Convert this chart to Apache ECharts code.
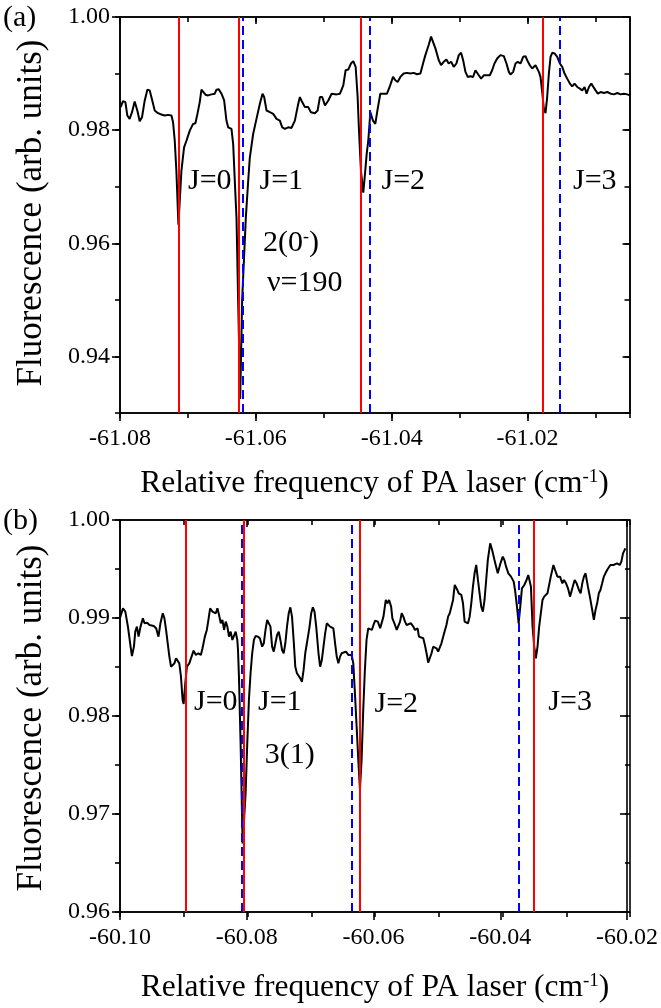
<!DOCTYPE html>
<html>
<head>
<meta charset="utf-8">
<script src="https://cdn.jsdelivr.net/npm/echarts@6/dist/echarts.min.js"></script>
<style>
html,body{margin:0;padding:0;background:#fff;}
#chart{width:661px;height:1008px;}
</style>
</head>
<body>
<div id="chart"></div>
<script>
// ---------------- DATA ----------------
// Panel (a): relative frequency (cm^-1) and fluorescence (arb. units)
const freqA = [-61.0799,-61.07956,-61.07921,-61.07892,-61.07858,-61.07823,-61.07784,-61.07745,-61.0771,-61.07676,
-61.07636,-61.07597,-61.07563,-61.07538,-61.07489,-61.0744,-61.07391,-61.07342,-61.07293,-61.07243,
-61.07219,-61.07194,-61.0717,-61.0714,-61.07096,-61.07057,-61.07022,-61.06973,-61.06924,-61.0689,
-61.0686,-61.06826,-61.06801,-61.06777,-61.06742,-61.06703,-61.06654,-61.06605,-61.0658,-61.06546,
-61.06506,-61.06467,-61.06433,-61.06408,-61.06359,-61.06334,-61.0631,-61.06285,-61.06261,-61.06231,
-61.06202,-61.06148,-61.06113,-61.06089,-61.0604,-61.05991,-61.05941,-61.05902,-61.05878,-61.05843,
-61.05794,-61.05745,-61.05696,-61.05647,-61.05612,-61.05573,-61.05524,-61.05475,-61.05426,-61.05376,
-61.05352,-61.05318,-61.05278,-61.05229,-61.0519,-61.05131,-61.05091,-61.05057,-61.05023,-61.04983,
-61.04934,-61.04885,-61.04811,-61.04762,-61.04713,-61.04679,-61.04639,-61.046,-61.04566,-61.04531,
-61.04502,-61.04482,-61.04453,-61.04419,-61.04394,-61.04369,-61.04345,-61.04315,-61.04276,-61.04242,
-61.04207,-61.04168,-61.04119,-61.0407,-61.04031,-61.03981,-61.03947,-61.03913,-61.03873,-61.03824,
-61.03775,-61.03726,-61.03677,-61.03628,-61.03578,-61.03539,-61.03505,-61.03456,-61.03421,-61.03392,
-61.03357,-61.03308,-61.03274,-61.03235,-61.03195,-61.03161,-61.03126,-61.03087,-61.03048,-61.03013,
-61.02979,-61.02949,-61.02915,-61.02881,-61.02841,-61.02802,-61.02768,-61.02743,-61.02719,-61.02684,
-61.02645,-61.02596,-61.02556,-61.02522,-61.02488,-61.02448,-61.02399,-61.0235,-61.02311,-61.02276,
-61.02252,-61.02213,-61.02178,-61.02144,-61.02105,-61.02065,-61.02031,-61.02006,-61.01967,-61.01933,
-61.01908,-61.01884,-61.01859,-61.01834,-61.0181,-61.01785,-61.01761,-61.01736,-61.01712,-61.01687,
-61.01662,-61.01638,-61.01603,-61.01564,-61.01525,-61.0149,-61.01456,-61.01417,-61.01377,-61.01343,
-61.01309,-61.01269,-61.0123,-61.01196,-61.01161,-61.01132,-61.01097,-61.01063,-61.01034,-61.00999,
-61.00965,-61.00925,-61.00876,-61.00827,-61.00778,-61.00729,-61.0068,-61.00631,-61.00582,-61.00532,
-61.00493];
const fluorA = [0.98407,0.98513,0.98496,0.98258,0.98199,0.98317,0.98507,0.98347,0.98157,0.98228,
0.98525,0.98715,0.98703,0.98585,0.98347,0.983,0.98276,0.98258,0.9827,0.98258,
0.98139,0.97813,0.97279,0.9633,0.97279,0.97694,0.97813,0.97991,0.9811,0.98122,
0.98288,0.98496,0.98715,0.98733,0.98626,0.98614,0.98632,0.98644,0.98715,0.98721,
0.98644,0.98525,0.98169,0.9805,0.98021,0.97754,0.97101,0.96448,0.950,0.9325,
0.950,0.96448,0.97101,0.97516,0.97932,0.98199,0.98466,0.98644,0.98585,0.98347,
0.98317,0.98288,0.98199,0.98169,0.9805,0.98021,0.9805,0.98039,0.98169,0.98466,
0.98585,0.98496,0.98407,0.98407,0.98317,0.983,0.98347,0.98585,0.98585,0.98436,
0.98525,0.98644,0.98632,0.98644,0.98792,0.99059,0.99071,0.99178,0.9922,0.99119,
0.98585,0.97991,0.97279,0.96893,0.9722,0.97576,0.97813,0.98317,0.98169,0.9811,
0.98377,0.98644,0.98644,0.98644,0.98763,0.98941,0.98881,0.98852,0.98941,0.99,
0.99012,0.99,0.99012,0.98988,0.99,0.99178,0.99326,0.99504,0.99653,0.99623,
0.99445,0.99237,0.99148,0.99208,0.99249,0.99178,0.99208,0.99119,0.99178,0.99326,
0.99368,0.99237,0.9903,0.98941,0.98953,0.98941,0.99059,0.99089,0.9897,0.98911,
0.9897,0.9897,0.9897,0.99059,0.99178,0.99267,0.99326,0.99309,0.99178,0.9903,
0.98982,0.9903,0.99178,0.99208,0.99178,0.99297,0.99309,0.99237,0.99148,0.99089,
0.99071,0.99148,0.99119,0.9903,0.98941,0.98674,0.98377,0.983,0.98585,0.99,
0.99297,0.99368,0.99356,0.99297,0.99178,0.99119,0.99,0.98911,0.98822,0.98774,
0.98822,0.98763,0.98733,0.98703,0.98763,0.98644,0.98763,0.98822,0.98792,0.98703,
0.98644,0.98674,0.98656,0.98674,0.98644,0.98632,0.98656,0.98632,0.98644,0.98632,
0.98614];

// Panel (b)
const freqB = [-60.1,-60.09953,-60.09916,-60.09875,-60.09833,-60.09812,-60.0978,-60.09759,-60.09733,-60.09707,
-60.09676,-60.09639,-60.09613,-60.09571,-60.09535,-60.09508,-60.09467,-60.0943,-60.09393,-60.09362,
-60.09325,-60.09299,-60.09273,-60.09247,-60.09221,-60.09195,-60.09169,-60.09142,-60.09116,-60.0909,
-60.09064,-60.09038,-60.09012,-60.08996,-60.0897,-60.08944,-60.08907,-60.08871,-60.08839,-60.08803,
-60.08766,-60.08724,-60.08698,-60.08661,-60.0863,-60.08609,-60.08578,-60.08541,-60.08515,-60.08489,
-60.08463,-60.08437,-60.0841,-60.08384,-60.08358,-60.08332,-60.08306,-60.0828,-60.08254,-60.08227,
-60.08201,-60.08175,-60.08149,-60.08138,-60.08123,-60.08097,-60.08065,-60.08018,-60.07992,-60.07966,
-60.0794,-60.07914,-60.07887,-60.07861,-60.07825,-60.07793,-60.07757,-60.07731,-60.07704,-60.07678,
-60.07652,-60.07626,-60.076,-60.07574,-60.07548,-60.07521,-60.07495,-60.07469,-60.07443,-60.07417,
-60.07391,-60.07365,-60.07338,-60.07312,-60.07286,-60.0726,-60.07234,-60.07208,-60.07182,-60.07155,
-60.07129,-60.07103,-60.07077,-60.07051,-60.07009,-60.06983,-60.06957,-60.06931,-60.06904,-60.06868,
-60.06842,-60.06815,-60.06789,-60.06763,-60.06737,-60.06711,-60.06685,-60.06659,-60.06633,-60.06606,
-60.0658,-60.06554,-60.06528,-60.06502,-60.06476,-60.06434,-60.06397,-60.06371,-60.06345,-60.06319,
-60.06293,-60.06266,-60.0624,-60.06214,-60.06188,-60.06162,-60.06136,-60.0611,-60.06083,-60.06026,
-60.06,-60.05974,-60.05932,-60.05895,-60.05869,-60.05843,-60.05806,-60.0578,-60.05754,-60.05722,
-60.05702,-60.0567,-60.05634,-60.05607,-60.05581,-60.05555,-60.05529,-60.05503,-60.05477,-60.05451,
-60.05409,-60.05372,-60.05346,-60.05304,-60.05283,-60.05252,-60.05215,-60.05189,-60.05163,-60.05137,
-60.05111,-60.05084,-60.05058,-60.05032,-60.05006,-60.0498,-60.04954,-60.04928,-60.04886,-60.04849,
-60.04823,-60.04797,-60.04771,-60.04745,-60.04718,-60.04692,-60.04677,-60.04656,-60.04614,-60.04588,
-60.04562,-60.04509,-60.04483,-60.04457,-60.04431,-60.04405,-60.04379,-60.04352,-60.04326,-60.043,
-60.04274,-60.04248,-60.04222,-60.04196,-60.04159,-60.04128,-60.04091,-60.04065,-60.04039,-60.03997,
-60.03961,-60.03935,-60.03908,-60.03872,-60.0383,-60.03788,-60.03767,-60.03736,-60.0371,-60.03684,
-60.03658,-60.03621,-60.03585,-60.03558,-60.03537,-60.03516,-60.0349,-60.03464,-60.03438,-60.03412,
-60.03386,-60.0336,-60.03333,-60.03307,-60.03281,-60.03255,-60.03203,-60.03161,-60.03135,-60.03098,
-60.03057,-60.0302,-60.02994,-60.02962,-60.02931,-60.02899,-60.02863,-60.02826,-60.02795,-60.02758,
-60.02732,-60.02706,-60.0268,-60.02654,-60.02617,-60.02586,-60.02549,-60.02523,-60.02497,-60.02471,
-60.02445,-60.02419,-60.02392,-60.02366,-60.02314,-60.02262,-60.02209,-60.02157,-60.02115,-60.02089,
-60.02063,-60.02026];
const fluorB = [0.99,0.99099,0.99065,0.98912,0.98708,0.98612,0.98708,0.98861,0.98912,0.9881,
0.98912,0.98997,0.98946,0.98952,0.98929,0.98918,0.98918,0.98895,0.9881,0.98946,
0.99048,0.98997,0.98878,0.98742,0.98606,0.98503,0.98486,0.98537,0.98589,0.98606,
0.98537,0.98401,0.98163,0.98123,0.98333,0.98503,0.98537,0.98606,0.98667,0.98623,
0.9864,0.98623,0.98691,0.9881,0.98878,0.98963,0.99099,0.99065,0.99082,0.99048,
0.99099,0.99031,0.98946,0.9898,0.98878,0.98963,0.98912,0.9881,0.98861,0.98776,
0.98759,0.98861,0.98776,0.98674,0.98401,0.97721,0.967,0.97211,0.97721,0.98163,
0.98436,0.9864,0.98776,0.98816,0.9881,0.98793,0.98708,0.98742,0.98878,0.9898,
0.98997,0.98912,0.98708,0.98657,0.98742,0.98827,0.98861,0.98776,0.98674,0.9864,
0.98742,0.98912,0.99048,0.99109,0.99014,0.98776,0.98503,0.98436,0.98419,0.98384,
0.9835,0.9847,0.9864,0.98742,0.98912,0.99048,0.99109,0.99065,0.98912,0.9864,
0.98503,0.98572,0.98708,0.98844,0.98946,0.98929,0.98912,0.98929,0.98895,0.98742,
0.98606,0.98537,0.98606,0.9864,0.98657,0.98657,0.98623,0.98623,0.98623,0.98537,
0.98231,0.97891,0.97551,0.97252,0.97551,0.98061,0.9847,0.98776,0.98895,0.98878,
0.98929,0.98973,0.98963,0.98895,0.98895,0.99014,0.99184,0.9915,0.99184,0.99116,
0.98997,0.98946,0.98878,0.98861,0.98963,0.99048,0.99014,0.98963,0.98929,0.98946,
0.98946,0.98912,0.98878,0.98895,0.9881,0.98793,0.98793,0.98725,0.9864,0.98544,
0.98555,0.9864,0.98708,0.98725,0.98691,0.98657,0.98674,0.98742,0.98844,0.98929,
0.99014,0.99048,0.99065,0.99184,0.99337,0.99354,0.99286,0.99252,0.99235,0.9915,
0.98963,0.98946,0.99014,0.9915,0.9932,0.99456,0.99541,0.99388,0.99252,0.99116,
0.99065,0.99184,0.99388,0.99592,0.99762,0.99694,0.99592,0.99524,0.99456,0.99558,
0.99626,0.99592,0.99524,0.99456,0.99422,0.99371,0.99286,0.99116,0.98946,0.99116,
0.99303,0.99337,0.99388,0.99439,0.99422,0.9932,0.98912,0.98708,0.98589,0.98708,
0.98912,0.99048,0.99184,0.99218,0.99201,0.99252,0.99422,0.99541,0.9949,0.99422,
0.99422,0.99354,0.99388,0.99354,0.99303,0.99218,0.99303,0.99388,0.99354,0.99286,
0.99252,0.99354,0.99422,0.99456,0.9932,0.99218,0.99082,0.9898,0.99082,0.9915,
0.99252,0.99286,0.99354,0.99422,0.9949,0.99541,0.99541,0.99558,0.99541,0.99575,
0.9966,0.99711];

// Assigned line positions (red: solid, blue: dashed)
const redA  = [-61.0714, -61.0625, -61.0446, -61.0177];
const blueA = [-61.0714, -61.0620, -61.0433, -61.0152];
const redB  = [-60.08965, -60.0804, -60.06215, -60.0347];
const blueB = [-60.08965, -60.0808, -60.0634, -60.0371];

// Axis ranges and ticks
const xRangeA = [-61.08, -61.005];
const yRangeA = [0.93, 1.00];
const xRangeB = [-60.10, -60.02];
const yRangeB = [0.96, 1.00];
const xMajorA = [-61.08, -61.06, -61.04, -61.02];
const yMajorA = [1.00, 0.98, 0.96, 0.94];
const xMajorB = [-60.10, -60.08, -60.06, -60.04, -60.02];
const yMajorB = [1.00, 0.99, 0.98, 0.97, 0.96];
const xMinorStepA = 0.01, yMinorStepA = 0.01, xMinorStepB = 0.01, yMinorStepB = 0.005;

// Texts
const jLabels = ['J=0', 'J=1', 'J=2', 'J=3'];
const xTitle = 'Relative frequency of PA laser (cm';
const yTitle = 'Fluorescence (arb. units)';

// ---------------- CHART ----------------
const FF = 'Liberation Serif';
const chart = echarts.init(document.getElementById('chart'), null, {renderer: 'canvas'});

const gridA = {left: 120, top: 17, width: 509.5, height: 396};
const gridB = {left: 120, top: 520, width: 510, height: 392};

function axMajor(gi, range, pos, vals, len, inside, labels, margin) {
  return {
    type: 'value', gridIndex: gi, position: pos, min: range[0], max: range[1],
    axisLine: {show: true, onZero: false, lineStyle: {color: '#000', width: 1.6}},
    axisTick: {show: true, inside: inside, length: len, customValues: vals, lineStyle: {color: '#000', width: 1.6}},
    axisLabel: labels ? {show: true, customValues: vals, margin: margin, color: '#000', fontSize: 24, fontFamily: FF,
      formatter: v => v.toFixed(2)} : {show: false},
    splitLine: {show: false}, minorTick: {show: false}
  };
}
function axMinor(gi, range, pos, step, inside) {
  return {
    type: 'value', gridIndex: gi, position: pos, min: range[0], max: range[1], interval: step,
    axisLine: {show: true, onZero: false, lineStyle: {color: '#000', width: 1.6}},
    axisTick: {show: true, inside: inside, length: 5, lineStyle: {color: '#000', width: 1.6}},
    axisLabel: {show: false},
    splitLine: {show: false}, minorTick: {show: false}
  };
}

function vlines(xi, yi, vals, color, type, z) {
  return {
    type: 'line', xAxisIndex: xi, yAxisIndex: yi, data: [], z: z, silent: true,
    markLine: {
      silent: true, symbol: ['none', 'none'], animation: false, precision: 6,
      label: {show: false},
      lineStyle: {color: color, width: 2, type: type},
      emphasis: {disabled: true},
      data: vals.map(v => ({xAxis: v}))
    }
  };
}

function jText(x, y, t) {
  return {type: 'text', x: x, y: y, z: 10,
    style: {text: t, fontSize: 30, fontFamily: FF, fill: '#000', align: 'left', verticalAlign: 'middle'}};
}

const supRich = {
  a: {fontSize: 31.5, fontFamily: FF, color: '#000'},
  s: {fontSize: 19, fontFamily: FF, color: '#000', verticalAlign: 'top'}
};
const supRich30 = {
  a: {fontSize: 30, fontFamily: FF, color: '#000'},
  s: {fontSize: 18, fontFamily: FF, color: '#000', verticalAlign: 'top'}
};

const option = {
  animation: false,
  backgroundColor: '#fff',
  grid: [gridA, gridA, gridB, gridB].map(g => Object.assign({containLabel: false}, g)),
  xAxis: [
    axMajor(0, xRangeA, 'bottom', xMajorA, 8, false, true, 14),
    axMajor(0, xRangeA, 'top', xMajorA, 7, true, false),
    axMinor(1, xRangeA, 'bottom', xMinorStepA, false),
    axMinor(1, xRangeA, 'top', xMinorStepA, true),
    axMajor(2, xRangeB, 'bottom', xMajorB, 8, false, true, 14),
    axMajor(2, xRangeB, 'top', xMajorB, 7, true, false),
    axMinor(3, xRangeB, 'bottom', xMinorStepB, false),
    axMinor(3, xRangeB, 'top', xMinorStepB, true)
  ],
  yAxis: [
    axMajor(0, yRangeA, 'left', yMajorA, 8, false, true, 10),
    axMajor(0, yRangeA, 'right', yMajorA, 7, true, false),
    axMinor(1, yRangeA, 'left', yMinorStepA, false),
    axMinor(1, yRangeA, 'right', yMinorStepA, true),
    axMajor(2, yRangeB, 'left', yMajorB, 8, false, true, 10),
    axMajor(2, yRangeB, 'right', yMajorB, 7, true, false),
    axMinor(3, yRangeB, 'left', yMinorStepB, false),
    axMinor(3, yRangeB, 'right', yMinorStepB, true)
  ],
  series: [
    {type: 'line', xAxisIndex: 0, yAxisIndex: 0, z: 2, symbol: 'none', silent: true,
     lineStyle: {color: '#000', width: 2}, data: freqA.map((f, i) => [f, fluorA[i]])},
    vlines(0, 0, blueA, '#0000ff', [9, 5], 3),
    vlines(0, 0, redA, '#ff0000', 'solid', 4),
    {type: 'line', xAxisIndex: 4, yAxisIndex: 4, z: 2, symbol: 'none', silent: true,
     lineStyle: {color: '#000', width: 2}, data: freqB.map((f, i) => [f, fluorB[i]])},
    vlines(4, 4, blueB, '#0000ff', [9, 5], 3),
    vlines(4, 4, redB, '#ff0000', 'solid', 4)
  ],
  graphic: [
    {type: 'text', x: 3, y: 18, style: {text: '(a)', fontSize: 30, fontFamily: FF, fill: '#000', verticalAlign: 'middle'}},
    {type: 'text', x: 3, y: 521, style: {text: '(b)', fontSize: 30, fontFamily: FF, fill: '#000', verticalAlign: 'middle'}},
    jText(188, 181, jLabels[0]), jText(259.5, 181, jLabels[1]), jText(381.5, 181, jLabels[2]), jText(573, 181, jLabels[3]),
    {type: 'text', x: 263, y: 243, z: 10, style: {text: '{a|2(0}{s|-}{a|)}', rich: supRich30, verticalAlign: 'middle', align: 'left'}},
    jText(267, 283, '\u03BD=190'),
    jText(194, 702, jLabels[0]), jText(258, 702, jLabels[1]), jText(374.5, 704, jLabels[2]), jText(548.3, 702, jLabels[3]),
    jText(264.7, 755, '3(1)'),
    {type: 'text', x: 374.5, y: 484, style: {text: '{a|' + xTitle + '}{s|-1}{a|)}', rich: supRich, align: 'center', verticalAlign: 'middle'}},
    {type: 'text', x: 375, y: 988, style: {text: '{a|' + xTitle + '}{s|-1}{a|)}', rich: supRich, align: 'center', verticalAlign: 'middle'}},
    {type: 'text', x: 32, y: 213, rotation: Math.PI / 2, style: {text: yTitle, fontSize: 35, fontFamily: FF, fill: '#000', align: 'center', verticalAlign: 'middle'}},
    {type: 'text', x: 32, y: 718, rotation: Math.PI / 2, style: {text: yTitle, fontSize: 35, fontFamily: FF, fill: '#000', align: 'center', verticalAlign: 'middle'}}
  ]
};
chart.setOption(option);
</script>
</body>
</html>
